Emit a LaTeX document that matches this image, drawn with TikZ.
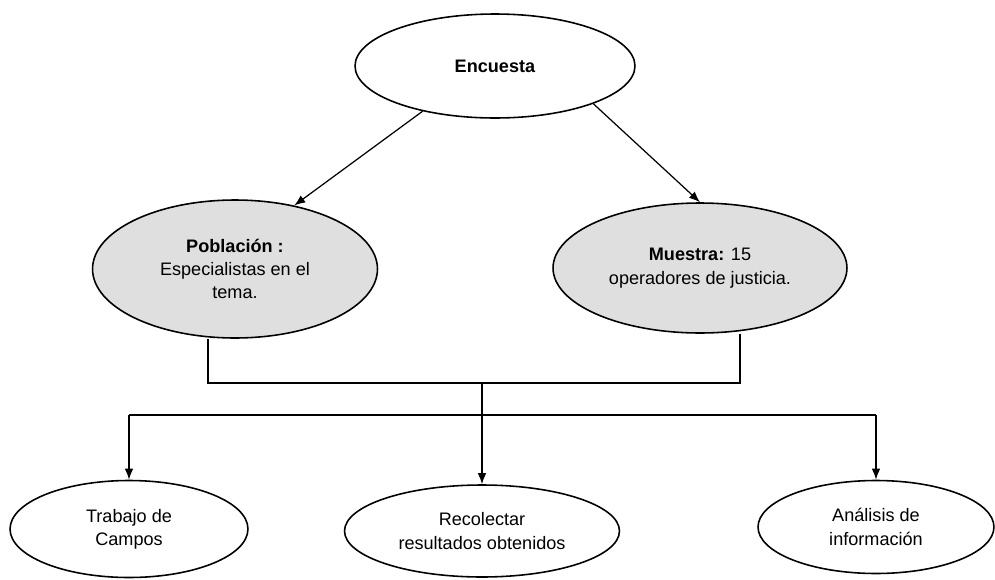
\documentclass[tikz,border=0pt]{standalone}
\usepackage{fontspec}
\setmainfont{Liberation Sans}
\usetikzlibrary{shapes.geometric,arrows.meta}
\begin{document}
\begin{tikzpicture}[x=0.02cm,y=-0.02cm,>={Latex[length=2.2mm,width=1.7mm]},
  every node/.style={font=\fontsize{10.3}{13.3}\selectfont,align=center},
  oval/.style={draw,ellipse,line width=0.9pt,inner sep=0pt},
  shaded/.style={oval,fill=gray!25}]
\useasboundingbox (0,0) rectangle (995,579);
\node[oval,minimum width=5.6cm,minimum height=2.08cm] (enc) at (495,66) {\textbf{Encuesta}};
\node[shaded,minimum width=5.7cm,minimum height=2.76cm] (pob) at (235,269) {\textbf{Población :}\\Especialistas en el\\tema.};
\node[shaded,minimum width=5.88cm,minimum height=2.6cm] (mue) at (700,268) {\textbf{Muestra:} 15\\operadores de justicia.};
\node[oval,minimum width=4.76cm,minimum height=1.94cm] (tra) at (129,529) {Trabajo de\\Campos};
\node[oval,minimum width=5.5cm,minimum height=1.84cm] (rec) at (482,531) {Recolectar\\resultados obtenidos};
\node[oval,minimum width=4.72cm,minimum height=1.86cm] (ana) at (876,527) {Análisis de\\información};
\coordinate (jl) at (208,383);
\coordinate (jr) at (740,383);
\coordinate (jm) at (482,383);
\coordinate (sm) at (482,415);
\coordinate (sl) at (129,415);
\coordinate (sr) at (876,415);
\draw[->,line width=0.7pt] (enc.212) to (pob.47);
\draw[->,line width=0.7pt] (enc.339) to (mue.north);
\draw[line width=0.7pt] (pob.south -| jl) -- (jl) -- (jr) -- (mue.south -| jr);
\draw[line width=0.7pt] (jm) -- (sm);
\draw[line width=0.7pt] (sl) -- (sr);
\draw[->,line width=0.7pt] (sl) -- (tra);
\draw[->,line width=0.7pt] (sm) -- (rec);
\draw[->,line width=0.7pt] (sr) -- (ana);
\end{tikzpicture}
\end{document}
